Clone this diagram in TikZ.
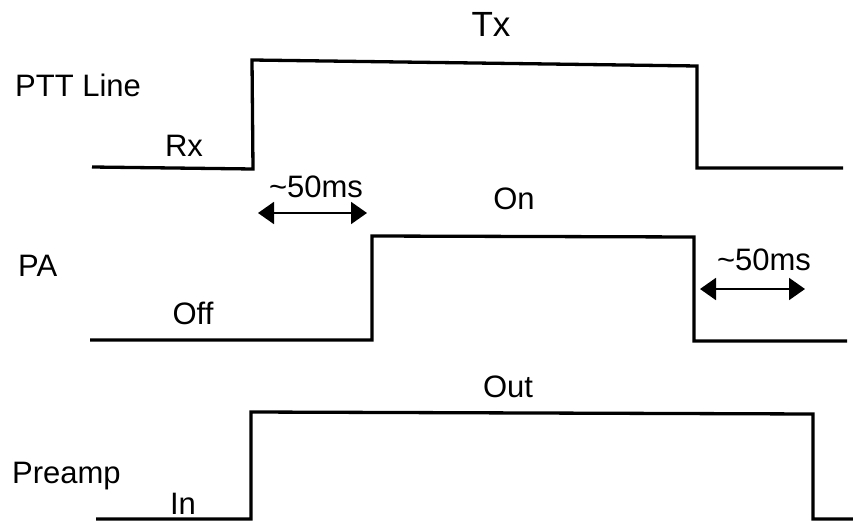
\documentclass[tikz,border=0pt]{standalone}
\usepackage{fontspec}
\setmainfont{Liberation Sans}
\usetikzlibrary{arrows.meta}
\begin{document}
\begin{tikzpicture}[x=1pt,y=-1pt,>={Triangle[length=16pt,width=22pt]},
        font=\fontsize{31}{37}\selectfont, inner sep=0pt]
        \useasboundingbox (0,0) rectangle (853,521);
        % PTT line
        \draw[line width=3.3pt] (92,167)--(253,169)--(252,60)--(697,66)--(697,168)--(843,168);
        \node[anchor=base west] (ptt) at (15,97) {PTT Line};
        \node[anchor=base] (rx) at (184,157) {Rx};
        \node[anchor=base] (tx) at (491,37) {\fontsize{35}{42}\selectfont Tx};
        % PA
        \draw[line width=3.3pt] (90,340)--(372,340)--(372,236)--(694,237)--(694,341)--(847,341);
        \node[anchor=base west] (pa) at (18,276) {PA};
        \node[anchor=base] (off) at (193,324) {Off};
        \node[anchor=base] (on) at (514,210) {On};
        % Preamp
        \draw[line width=3.3pt] (96,519)--(251,519)--(251,412)--(813,414)--(813,519)--(853,519);
        \node[anchor=base west] (pre) at (12,483) {Preamp};
        \node[anchor=base] (in) at (183,514) {In};
        \node[anchor=base] (out) at (508,397) {Out};
        % delays
        \coordinate (d1l) at (258,213); \coordinate (d1r) at (367,213);
        \draw[<->,line width=2pt] (d1l)--(d1r);
        \node[anchor=base] (d1) at (316,198) {\textasciitilde 50ms};
        \coordinate (d2l) at (700,289); \coordinate (d2r) at (805,289);
        \draw[<->,line width=2pt] (d2l)--(d2r);
        \node[anchor=base] (d2) at (764,270) {\textasciitilde 50ms};
\end{tikzpicture}
\end{document}
